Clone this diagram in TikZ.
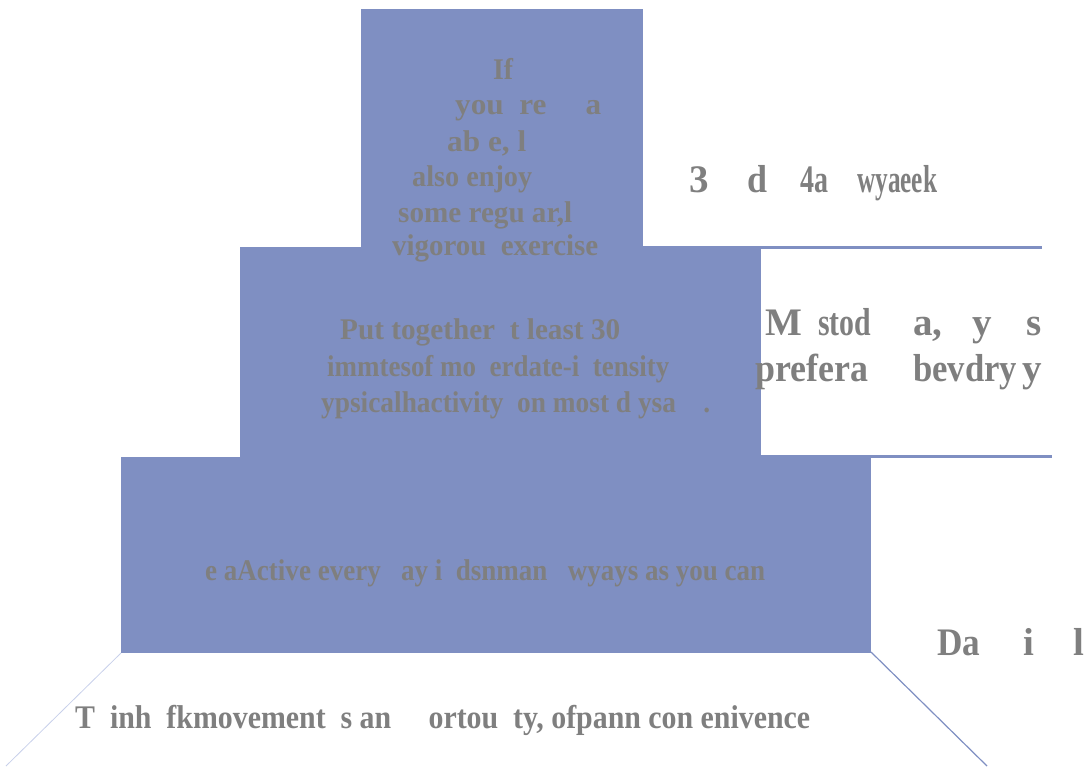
\documentclass[tikz,border=0pt]{standalone}
\usepackage{graphicx}
\usepackage{fontspec}
\setmainfont{Liberation Serif}
\definecolor{pyr}{HTML}{7F8FC2}
\definecolor{txtgray}{HTML}{7F7F7F}
\definecolor{faint}{HTML}{C8D0EA}
\newcommand\fitw[2]{\resizebox{#1pt}{\height}{#2}}
\tikzset{
  tier/.style={fill=pyr, draw=none},
  guide/.style={draw=pyr, line width=3pt},
  slope/.style={draw=pyr, line width=1.2pt},
  txt/.style={text=txtgray, inner sep=0pt, anchor=base west, font=\bfseries\fontsize{30}{32}\selectfont},
  big/.style={txt, font=\bfseries\fontsize{39}{42}\selectfont},
  tall/.style={txt, font=\bfseries\fontsize{33}{36}\selectfont},
}
\begin{document}
\begin{tikzpicture}[x=1pt,y=-1pt]
\useasboundingbox (0,0) rectangle (1089,767);
% tiers
\path[tier] (361,9) rectangle (643,247);
\path[tier] (240,247) rectangle (761,457);
\path[tier] (121,457) rectangle (871,653);
% guide lines
\coordinate (g1a) at (643,248); \coordinate (g1b) at (1042,248);
\coordinate (g2a) at (761,456.5); \coordinate (g2b) at (1052,456.5);
\draw[guide] (g1a) -- (g1b);
\draw[guide] (g2a) -- (g2b);
\coordinate (s1a) at (871,652); \coordinate (s1b) at (987,766);
\coordinate (s2a) at (121,653); \coordinate (s2b) at (6,766);
\draw[slope] (s1a) -- (s1b);
\draw[draw=faint, line width=0.8pt] (s2a) -- (s2b);
% top tier text
\node[txt] (t1) at (493,80) {\fitw{20}{If}};
\node[txt] (t2) at (455,115) {\fitw{146}{you\ \ re\ \ \ \ \ a}};
\node[txt] (t3) at (447,152) {\fitw{79}{ab e,\ l}};
\node[txt] (t4) at (412,187) {\fitw{120}{also enjoy}};
\node[txt] (t5) at (398,223) {\fitw{174}{some regu ar,l}};
\node[txt] (t6) at (392,255) {\fitw{206}{vigorou\ \ exercise}};
% middle tier text
\node[txt] (m1) at (340,339) {\fitw{280}{Put together\ \ t least 30}};
\node[txt] (m2) at (327,376) {\fitw{342}{immtesof mo\ \ erdate-i\ \ tensity}};
\node[txt] (m3) at (321,412) {\fitw{389}{ypsicalhactivity\ \ on most d\ ysa\ \ \ \ .}};
% bottom tier text
\node[txt] (b1) at (205,580) {\fitw{560}{e aActive every\ \ \ ay i\ \ dsnman\ \ \ wyays as you can}};
\node[tall] (b2) at (75,728) {\fitw{735}{T\ \ inh\ \ fkmovement\ \ s an\ \ \ \ \ ortou\ \ ty, ofpann con enivence}};
% right labels
\node[big] (r1) at (689,193) {3};
\node[big] (r2) at (747,193) {\fitw{20}{d}};
\node[big] (r3) at (800,193) {\fitw{28}{4a}};
\node[big] (r4) at (857,193) {\fitw{80}{wyaeek}};
\node[big] (r5) at (765,335) {M};
\node[big] (r6) at (818,335) {\fitw{53}{stod}};
\node[big] (r7) at (913,335) {a,};
\node[big] (r8) at (972,335) {y};
\node[big] (r9) at (1026,335) {s};
\node[big] (r10) at (755,381) {\fitw{113}{prefera}};
\node[big] (r11) at (913,381) {\fitw{104}{bevdry}};
\node[big] (r12) at (1022,381) {y};
\node[big] (r13) at (937,655) {\fitw{43}{Da}};
\node[big] (r14) at (1023,655) {i};
\node[big] (r15) at (1073,655) {l};
\end{tikzpicture}
\end{document}
